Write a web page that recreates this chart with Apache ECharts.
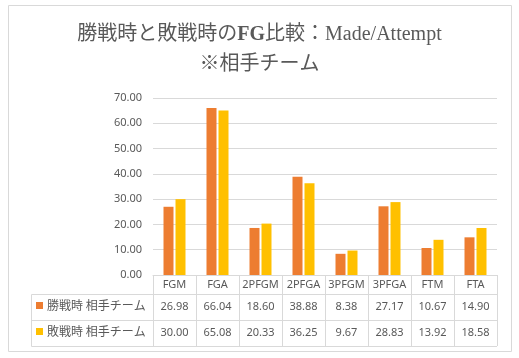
<!DOCTYPE html>
<html>
<head>
<meta charset="utf-8">
<script src="https://cdn.jsdelivr.net/npm/echarts@6/dist/echarts.min.js"></script>
<style>html,body{margin:0;padding:0;background:#fff}#c{width:519px;height:358px}</style>
</head>
<body>
<div id="c"></div>
<script>
const categories = ['FGM','FGA','2PFGM','2PFGA','3PFGM','3PFGA','FTM','FTA'];
const winValues = [26.98, 66.04, 18.60, 38.88, 8.38, 27.17, 10.67, 14.90];
const loseValues = [30.00, 65.08, 20.33, 36.25, 9.67, 28.83, 13.92, 18.58];
const seriesNames = ['勝戦時 相手チーム', '敗戦時 相手チーム'];
const titleParts = ['勝戦時と敗戦時の', 'FG', '比較：Made/Attempt', '※相手チーム'];
const yTicks = {min: 0, max: 70, interval: 10};

const colors = ['#ED7D31', '#FFC000'];
const gridC = '#D9D9D9';
const textC = '#595959';
const sans = "'Noto Sans','Noto Sans CJK JP',sans-serif";
const serif = "'Liberation Serif','Noto Sans CJK JP',serif";

const chart = echarts.init(document.getElementById('c'));
const gTop = 98, gBottom = 275, gLeft = 153, gRight = 497, tLeft = 31.5;
const option = {
  animation: false,
  title: {
    text: `{a|${titleParts[0]}}{b|${titleParts[1]}}{a|${titleParts[2]}}\n{a|${titleParts[3]}}`,
    left: 'center',
    top: 15,
    textStyle: {
      fontFamily: serif, fontSize: 20, fontWeight: 'normal', color: textC, lineHeight: 30,
      rich: {
        a: {fontFamily: serif, fontSize: 20, color: textC, lineHeight: 30},
        b: {fontFamily: serif, fontSize: 20, fontWeight: 'bold', color: textC, lineHeight: 30}
      }
    }
  },
  grid: {left: gLeft, right: 519 - gRight, top: gTop, bottom: 358 - gBottom, containLabel: false},
  xAxis: {
    type: 'category',
    data: categories,
    axisLine: {lineStyle: {color: gridC}},
    axisTick: {show: true, interval: 0, length: 71, lineStyle: {color: gridC}},
    axisLabel: {
      interval: 0, margin: 0,
      formatter: (v, i) => `{h|${v}}\n{v|${winValues[i].toFixed(2)}}\n{v|${loseValues[i].toFixed(2)}}`,
      rich: {
        h: {fontFamily: sans, fontSize: 11, color: textC, lineHeight: 19},
        v: {fontFamily: sans, fontSize: 11, color: textC, lineHeight: 26}
      }
    }
  },
  yAxis: {
    type: 'value', min: yTicks.min, max: yTicks.max, interval: yTicks.interval,
    axisLine: {show: false}, axisTick: {show: false},
    splitLine: {lineStyle: {color: gridC}},
    axisLabel: {margin: 11, fontFamily: sans, fontSize: 11, color: textC, formatter: v => v.toFixed(2)}
  },
  series: [
    {name: seriesNames[0], type: 'bar', data: winValues, barWidth: 10, barGap: '20%', itemStyle: {color: colors[0]}},
    {name: seriesNames[1], type: 'bar', data: loseValues, barWidth: 10, itemStyle: {color: colors[1]}}
  ],
  graphic: [
    {type: 'rect', shape: {x: 8.5, y: 5.5, width: 503, height: 346}, style: {fill: 'none', stroke: gridC, lineWidth: 1}, silent: true},
    {type: 'line', shape: {x1: tLeft, y1: 294.5, x2: gRight, y2: 294.5}, style: {stroke: gridC}},
    {type: 'line', shape: {x1: tLeft, y1: 320.5, x2: gRight, y2: 320.5}, style: {stroke: gridC}},
    {type: 'line', shape: {x1: tLeft, y1: 346.5, x2: gRight, y2: 346.5}, style: {stroke: gridC}},
    {type: 'line', shape: {x1: tLeft, y1: 294.5, x2: tLeft, y2: 346.5}, style: {stroke: gridC}},
    {type: 'rect', shape: {x: 36, y: 302, width: 7, height: 7}, style: {fill: colors[0]}},
    {type: 'rect', shape: {x: 36, y: 328, width: 7, height: 7}, style: {fill: colors[1]}},
    {type: 'text', left: 47, top: 299, style: {text: seriesNames[0], font: "12px 'Noto Sans CJK JP'", fill: textC}},
    {type: 'text', left: 47, top: 325, style: {text: seriesNames[1], font: "12px 'Noto Sans CJK JP'", fill: textC}}
  ]
};
chart.setOption(option);
</script>
</body>
</html>
